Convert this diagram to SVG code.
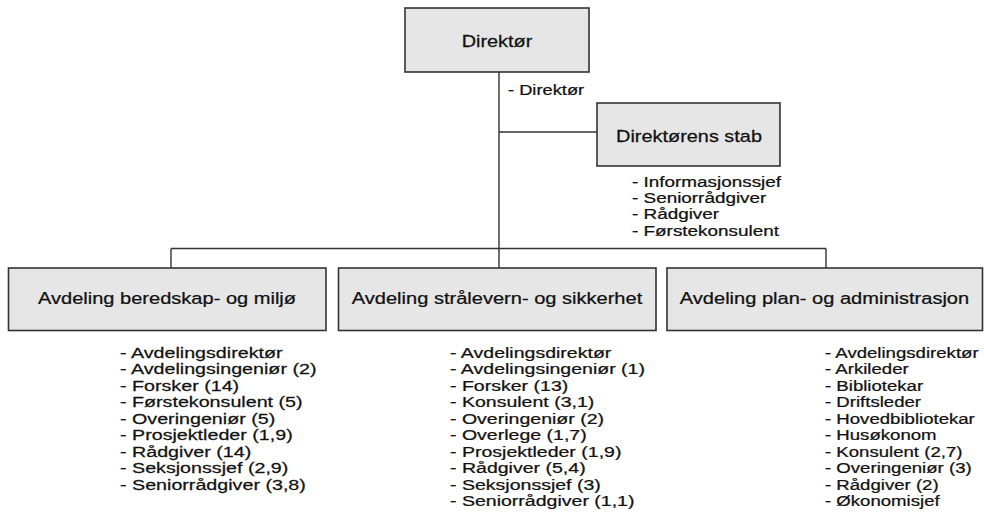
<svg xmlns="http://www.w3.org/2000/svg" width="984" height="515" viewBox="0 0 984 515">
<style>
  .box { fill: #e6e6e6; stroke: #333333; stroke-width: 1.6; }
  .conn { stroke: #333333; stroke-width: 1.4; fill: none; }
  .t { font-family: "Liberation Sans", Arial, sans-serif; fill: #111111; stroke: #111111; stroke-width: 0.25; }
  .title { font-size: 17px; text-anchor: middle; }
  .list { font-size: 15.5px; }
  .small { font-size: 15px; }
</style>
<rect x="0" y="0" width="984" height="515" fill="#ffffff"/>
<g id="connectors">
  <line class="conn" x1="499" y1="72" x2="499" y2="268"/>
  <line class="conn" x1="499" y1="132" x2="597" y2="132"/>
  <line class="conn" x1="171" y1="248.5" x2="826" y2="248.5"/>
  <line class="conn" x1="171" y1="248.5" x2="171" y2="268"/>
  <line class="conn" x1="826" y1="248.5" x2="826" y2="268"/>
</g>
<g id="direktor">
  <rect class="box" x="405" y="8" width="184" height="64"/>
  <text class="t title" transform="translate(497,47) scale(1.17,1)">Direktør</text>
  <text class="t list" transform="translate(508,95) scale(1.18,1)">- Direktør</text>
</g>
<g id="direktorens-stab">
  <rect class="box" x="597" y="103" width="183" height="63"/>
  <text class="t title" transform="translate(689,142) scale(1.17,1)">Direktørens stab</text>
  <text class="t small" transform="translate(632,187) scale(1.26,1)">
    <tspan x="0" y="0">- Informasjonssjef</tspan>
    <tspan x="0" y="16.2">- Seniorrådgiver</tspan>
    <tspan x="0" y="32.4">- Rådgiver</tspan>
    <tspan x="0" y="48.6">- Førstekonsulent</tspan>
  </text>
</g>
<g id="avd-beredskap">
  <rect class="box" x="8.5" y="268" width="317.5" height="62.5"/>
  <text class="t title" transform="translate(167,304) scale(1.18,1)">Avdeling beredskap- og miljø</text>
  <text class="t list" transform="translate(120,358) scale(1.27,1)">
    <tspan x="0" y="0">- Avdelingsdirektør</tspan>
    <tspan x="0" y="16.5">- Avdelingsingeniør (2)</tspan>
    <tspan x="0" y="33">- Forsker (14)</tspan>
    <tspan x="0" y="49.5">- Førstekonsulent (5)</tspan>
    <tspan x="0" y="66">- Overingeniør (5)</tspan>
    <tspan x="0" y="82.5">- Prosjektleder (1,9)</tspan>
    <tspan x="0" y="99">- Rådgiver (14)</tspan>
    <tspan x="0" y="115.5">- Seksjonssjef (2,9)</tspan>
    <tspan x="0" y="132">- Seniorrådgiver (3,8)</tspan>
  </text>
</g>
<g id="avd-stralevern">
  <rect class="box" x="338.5" y="268" width="317.5" height="62.5"/>
  <text class="t title" transform="translate(497,304) scale(1.18,1)">Avdeling strålevern- og sikkerhet</text>
  <text class="t list" transform="translate(450,358) scale(1.26,1)">
    <tspan x="0" y="0">- Avdelingsdirektør</tspan>
    <tspan x="0" y="16.5">- Avdelingsingeniør (1)</tspan>
    <tspan x="0" y="33">- Forsker (13)</tspan>
    <tspan x="0" y="49.5">- Konsulent (3,1)</tspan>
    <tspan x="0" y="66">- Overingeniør (2)</tspan>
    <tspan x="0" y="82.5">- Overlege (1,7)</tspan>
    <tspan x="0" y="99">- Prosjektleder (1,9)</tspan>
    <tspan x="0" y="115.5">- Rådgiver (5,4)</tspan>
    <tspan x="0" y="132">- Seksjonssjef (3)</tspan>
    <tspan x="0" y="148.5">- Seniorrådgiver (1,1)</tspan>
  </text>
</g>
<g id="avd-plan">
  <rect class="box" x="667" y="268" width="315.5" height="62.5"/>
  <text class="t title" transform="translate(824.5,304) scale(1.18,1)">Avdeling plan- og administrasjon</text>
  <text class="t list" transform="translate(825,358) scale(1.2,1)">
    <tspan x="0" y="0">- Avdelingsdirektør</tspan>
    <tspan x="0" y="16.5">- Arkileder</tspan>
    <tspan x="0" y="33">- Bibliotekar</tspan>
    <tspan x="0" y="49.5">- Driftsleder</tspan>
    <tspan x="0" y="66">- Hovedbibliotekar</tspan>
    <tspan x="0" y="82.5">- Husøkonom</tspan>
    <tspan x="0" y="99">- Konsulent (2,7)</tspan>
    <tspan x="0" y="115.5">- Overingeniør (3)</tspan>
    <tspan x="0" y="132">- Rådgiver (2)</tspan>
    <tspan x="0" y="148.5">- Økonomisjef</tspan>
  </text>
</g>
</svg>
